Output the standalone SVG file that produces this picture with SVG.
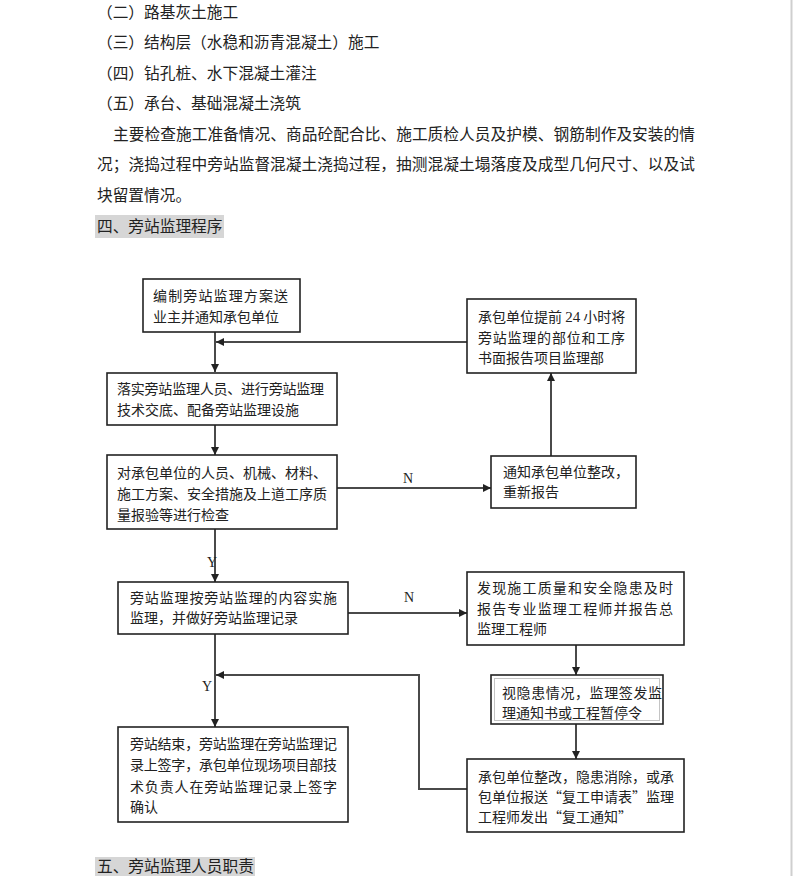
<svg xmlns="http://www.w3.org/2000/svg" width="793" height="876" viewBox="0 0 793 876">
<style>
  .body{font-family:"Noto Sans CJK SC","Liberation Serif",sans-serif;font-size:15.7px;fill:#222;}
  .t{font-family:"Noto Sans CJK SC","Liberation Serif",sans-serif;font-size:14px;fill:#222;}
  .lat{font-family:"Liberation Serif",serif;}
  .lbl{font-family:"Liberation Serif",serif;font-size:14px;fill:#222;}
  .box{fill:#fff;stroke:#222;stroke-width:1.6;}
  .hl{fill:#d6d6d6;}
  .conn{fill:none;stroke:#4a4a4a;stroke-width:2;}
</style>
<defs>
  <marker id="arr" markerUnits="userSpaceOnUse" markerWidth="9" markerHeight="8" refX="8" refY="4" orient="auto">
    <path d="M0,0 L8,4 L0,8 Z" fill="#222"/>
  </marker>
</defs>
<rect width="793" height="876" fill="#fff"/>
<line x1="791.5" y1="0" x2="791.5" y2="876" stroke="#cfcfcf" stroke-width="2"/>

<g id="page-text">
  <text class="body" x="97" y="18">（二）路基灰土施工</text>
  <text class="body" x="97" y="48">（三）结构层（水稳和沥青混凝土）施工</text>
  <text class="body" x="97" y="79">（四）钻孔桩、水下混凝土灌注</text>
  <text class="body" x="97" y="109">（五）承台、基础混凝土浇筑</text>
  <text class="body" x="113" y="140" textLength="582" lengthAdjust="spacing">主要检查施工准备情况、商品砼配合比、施工质检人员及护模、钢筋制作及安装的情</text>
  <text class="body" x="97" y="170" textLength="598" lengthAdjust="spacing">况；浇捣过程中旁站监督混凝土浇捣过程，抽测混凝土塌落度及成型几何尺寸、以及试</text>
  <text class="body" x="97" y="201">块留置情况。</text>
  <rect class="hl" x="95" y="215" width="129" height="23"/>
  <text class="body" x="97" y="232">四、旁站监理程序</text>
  <rect class="hl" x="95" y="857" width="160" height="19"/>
  <text class="body" x="97" y="872">五、旁站监理人员职责</text>
</g>

<g id="connectors">
  <line class="conn" x1="215" y1="332" x2="215" y2="372" marker-end="url(#arr)"/>
  <line class="conn" x1="467" y1="342" x2="216" y2="342" marker-end="url(#arr)"/>
  <line class="conn" x1="215" y1="425" x2="215" y2="455" marker-end="url(#arr)"/>
  <line class="conn" x1="337" y1="488" x2="491" y2="488" marker-end="url(#arr)"/>
  <line class="conn" x1="551" y1="456" x2="551" y2="373" marker-end="url(#arr)"/>
  <line class="conn" x1="215" y1="529" x2="215" y2="582" marker-end="url(#arr)"/>
  <line class="conn" x1="348" y1="613" x2="467" y2="613" marker-end="url(#arr)"/>
  <line class="conn" x1="215" y1="634" x2="215" y2="727" marker-end="url(#arr)"/>
  <line class="conn" x1="576" y1="645" x2="576" y2="675" marker-end="url(#arr)"/>
  <line class="conn" x1="576" y1="724" x2="576" y2="759" marker-end="url(#arr)"/>
  <polyline class="conn" points="467,789 419,789 419,675 216,675" marker-end="url(#arr)"/>
  <text class="lbl" x="403" y="483">N</text>
  <text class="lbl" x="404" y="602">N</text>
  <text class="lbl" x="207" y="567">Y</text>
  <text class="lbl" x="202" y="691">Y</text>
</g>

<g id="nodeA">
  <rect class="box" x="143" y="279" width="157" height="53"/>
  <text class="t" x="153" y="301" textLength="135" lengthAdjust="spacing">编制旁站监理方案送</text>
  <text class="t" x="153" y="322">业主并通知承包单位</text>
</g>
<g id="nodeB">
  <rect class="box" x="107" y="373" width="230" height="52"/>
  <text class="t" x="117" y="394" textLength="207" lengthAdjust="spacing">落实旁站监理人员、进行旁站监理</text>
  <text class="t" x="117" y="415">技术交底、配备旁站监理设施</text>
</g>
<g id="nodeC">
  <rect class="box" x="107" y="455" width="230" height="74"/>
  <text class="t" x="117" y="478">对承包单位的人员、机械、材料、</text>
  <text class="t" x="117" y="499">施工方案、安全措施及上道工序质</text>
  <text class="t" x="117" y="520">量报验等进行检查</text>
</g>
<g id="nodeE">
  <rect class="box" x="467" y="299" width="169" height="74"/>
  <text class="t" x="478" y="322">承包单位提前 <tspan class="lat" font-size="15">24</tspan> 小时将</text>
  <text class="t" x="478" y="343" textLength="147" lengthAdjust="spacing">旁站监理的部位和工序</text>
  <text class="t" x="478" y="363">书面报告项目监理部</text>
</g>
<g id="nodeD">
  <rect class="box" x="491" y="456" width="145" height="52"/>
  <text class="t" x="503" y="477">通知承包单位整改，</text>
  <text class="t" x="503" y="497">重新报告</text>
</g>
<g id="nodeF">
  <rect class="box" x="118" y="582" width="230" height="52"/>
  <text class="t" x="130" y="603" textLength="207" lengthAdjust="spacing">旁站监理按旁站监理的内容实施</text>
  <text class="t" x="130" y="623">监理，并做好旁站监理记录</text>
</g>
<g id="nodeG">
  <rect class="box" x="467" y="572" width="217" height="73"/>
  <text class="t" x="477" y="593" textLength="196" lengthAdjust="spacing">发现施工质量和安全隐患及时</text>
  <text class="t" x="477" y="614" textLength="196" lengthAdjust="spacing">报告专业监理工程师并报告总</text>
  <text class="t" x="477" y="634">监理工程师</text>
</g>
<g id="nodeI">
  <rect class="box" x="491" y="675" width="172" height="49"/>
  <rect x="494.5" y="678.5" width="165" height="42" fill="none" stroke="#c4c4c4" stroke-width="1"/>
  <text class="t" x="502" y="698" textLength="160" lengthAdjust="spacing">视隐患情况，监理签发监</text>
  <text class="t" x="502" y="718">理通知书或工程暂停令</text>
</g>
<g id="nodeJ">
  <rect class="box" x="467" y="759" width="217" height="73"/>
  <text class="t" x="478" y="782" textLength="196" lengthAdjust="spacing">承包单位整改，隐患消除，或承</text>
  <text class="t" x="478" y="802" textLength="196" lengthAdjust="spacing">包单位报送“复工申请表”监理</text>
  <text class="t" x="478" y="822">工程师发出“复工通知”</text>
</g>
<g id="nodeH">
  <rect class="box" x="118" y="727" width="230" height="95"/>
  <text class="t" x="130" y="749" textLength="207" lengthAdjust="spacing">旁站结束，旁站监理在旁站监理记</text>
  <text class="t" x="130" y="770" textLength="207" lengthAdjust="spacing">录上签字，承包单位现场项目部技</text>
  <text class="t" x="130" y="792" textLength="207" lengthAdjust="spacing">术负责人在旁站监理记录上签字</text>
  <text class="t" x="130" y="812">确认</text>
</g>
</svg>
